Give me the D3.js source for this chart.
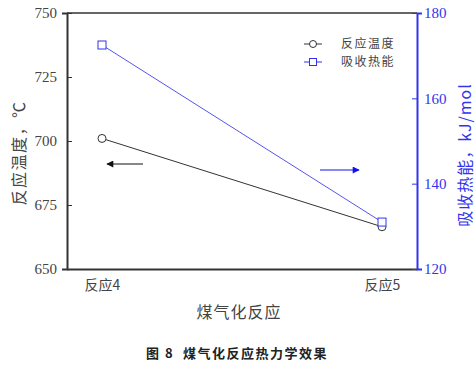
<!DOCTYPE html>
<html>
<head>
<meta charset="utf-8">
<script src="https://cdn.jsdelivr.net/npm/d3@7"></script>
<style>
  body { margin: 0; background: #fff; }
  text { font-family: "Liberation Serif", "Noto Sans CJK SC", serif; fill: #444; }
</style>
</head>
<body>
<div id="chart"></div>
<script>
var categories = ["反应4", "反应5"]
var tempValues = [701, 666.5]      // 反应温度, ℃
var heatValues = [172.5, 131]      // 吸收热能, kJ/mol
var leftTicks = [650, 675, 700, 725, 750]
var rightTicks = [120, 140, 160, 180]

var W = 476, H = 365
var margin = { top: 13, right: 59, bottom: 96, left: 67 }
var width = W - margin.left - margin.right,
  height = H - margin.top - margin.bottom

var svg = d3.select("#chart").append("svg")
  .attr("width", W)
  .attr("height", H)

var g = svg.append("g")
  .attr("transform", "translate(" + margin.left + "," + margin.top + ")")

var x = d3.scalePoint().domain(categories).range([0, width]).padding(0.125)
var yL = d3.scaleLinear().domain([650, 750]).range([height, 0])
var yR = d3.scaleLinear().domain([120, 180]).range([height, 0])

var blue = "#3333ee"
var cjk = "'Noto Sans CJK SC', sans-serif"

// top frame line
g.append("line")
  .attr("x1", 0).attr("x2", width).attr("y1", 0).attr("y2", 0)
  .attr("stroke", "#333").attr("stroke-width", 1.5)

// bottom axis
var xAxis = g.append("g")
  .attr("transform", "translate(0," + height + ")")
  .call(d3.axisBottom(x).tickSize(0).tickPadding(8))
xAxis.select(".domain").attr("stroke", "#333").attr("stroke-width", 2)
xAxis.selectAll("text").style("font-size", "14px").style("font-family", cjk).attr("dy", "0.9em")

// left axis
var lAxis = g.append("g")
  .call(d3.axisLeft(yL).tickValues(leftTicks).tickSize(5).tickPadding(5))
lAxis.select(".domain").attr("stroke", "#333").attr("stroke-width", 2)
lAxis.selectAll("line").attr("stroke", "#333").attr("transform", "translate(5,0)")
lAxis.selectAll("text").style("font-size", "15px")

// right axis
var rAxis = g.append("g")
  .attr("transform", "translate(" + width + ",0)")
  .call(d3.axisRight(yR).tickValues(rightTicks).tickSize(5).tickPadding(2))
rAxis.select(".domain").attr("stroke", blue).attr("stroke-width", 2)
rAxis.selectAll("line").attr("stroke", blue).attr("transform", "translate(-5,0)")
rAxis.selectAll("text").style("font-size", "15px").style("fill", blue)

// series lines
var lineT = d3.line()
  .x(function (d, i) { return x(categories[i]) })
  .y(function (d) { return yL(d) })
var lineH = d3.line()
  .x(function (d, i) { return x(categories[i]) })
  .y(function (d) { return yR(d) })

g.append("path").datum(tempValues)
  .attr("d", lineT).attr("fill", "none").attr("stroke", "#333").attr("stroke-width", 1)
g.append("path").datum(heatValues)
  .attr("d", lineH).attr("fill", "none").attr("stroke", "#5555ee").attr("stroke-width", 1)

g.selectAll(".pt").data(tempValues).enter().append("circle")
  .attr("cx", function (d, i) { return x(categories[i]) })
  .attr("cy", function (d) { return yL(d) })
  .attr("r", 4).attr("fill", "#fff").attr("stroke", "#333")

g.selectAll(".sq").data(heatValues).enter().append("rect")
  .attr("x", function (d, i) { return x(categories[i]) - 4 })
  .attr("y", function (d) { return yR(d) - 4 })
  .attr("width", 8).attr("height", 8)
  .attr("fill", "#fff").attr("stroke", "#3333ee")

// direction arrows
var defs = svg.append("defs")
function marker(id, col) {
  defs.append("marker").attr("id", id)
    .attr("viewBox", "0 0 10 10").attr("refX", 9).attr("refY", 5)
    .attr("markerWidth", 9).attr("markerHeight", 7)
    .attr("markerUnits", "userSpaceOnUse").attr("orient", "auto")
    .append("path").attr("d", "M0,0L10,5L0,10Z").attr("fill", col)
}
marker("ah-black", "#111")
marker("ah-blue", "#1111ee")
svg.append("line").attr("x1", 143).attr("y1", 164).attr("x2", 107).attr("y2", 164)
  .attr("stroke", "#111").attr("marker-end", "url(#ah-black)")
svg.append("line").attr("x1", 320).attr("y1", 170).attr("x2", 359).attr("y2", 170)
  .attr("stroke", "#1111ee").attr("marker-end", "url(#ah-blue)")

// legend
var legend = svg.append("g").attr("transform", "translate(304,44)")
legend.append("line").attr("x1", 0).attr("x2", 18).attr("y1", 0).attr("y2", 0).attr("stroke", "#333")
legend.append("circle").attr("cx", 9).attr("cy", 0).attr("r", 3.5).attr("fill", "#fff").attr("stroke", "#333")
legend.append("text").attr("x", 37).attr("y", 0).attr("dy", "0.35em")
  .style("font-family", cjk).style("font-size", "12px").style("letter-spacing", "1.5px").text("反应温度")
legend.append("line").attr("x1", 0).attr("x2", 18).attr("y1", 18).attr("y2", 18).attr("stroke", "#3333ee")
legend.append("rect").attr("x", 5.5).attr("y", 14.5).attr("width", 7).attr("height", 7).attr("fill", "#fff").attr("stroke", "#3333ee")
legend.append("text").attr("x", 37).attr("y", 18).attr("dy", "0.35em")
  .style("font-family", cjk).style("font-size", "12px").style("letter-spacing", "1.5px").text("吸收热能")

// axis titles
svg.append("text")
  .attr("transform", "translate(19,153) rotate(-90)")
  .attr("text-anchor", "middle").attr("dy", "0.35em")
  .style("font-family", cjk).style("font-size", "16px").style("letter-spacing", "1.5px")
  .text("反应温度，℃")
svg.append("text")
  .attr("transform", "translate(465,155) rotate(-90)")
  .attr("text-anchor", "middle").attr("dy", "0.35em")
  .style("font-family", cjk).style("font-size", "16px").style("letter-spacing", "1px").style("fill", blue)
  .text("吸收热能，kJ/mol")
svg.append("text")
  .attr("x", 239).attr("y", 312).attr("dy", "0.35em")
  .attr("text-anchor", "middle")
  .style("font-family", cjk).style("font-size", "16px").style("letter-spacing", "1px")
  .text("煤气化反应")

// caption
svg.append("text")
  .attr("x", 237).attr("y", 353).attr("dy", "0.35em")
  .attr("text-anchor", "middle")
  .style("font-family", cjk).style("font-size", "13px").style("font-weight", "bold")
  .style("letter-spacing", "1.5px").style("fill", "#222")
  .text("图\u00a08\u00a0\u00a0煤气化反应热力学效果")
</script>
</body>
</html>
